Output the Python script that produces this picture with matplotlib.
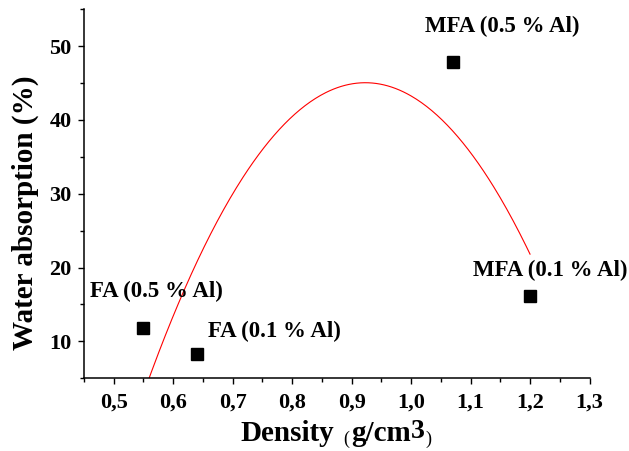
import numpy as np
import matplotlib
matplotlib.use("Agg")
import matplotlib.pyplot as plt
from matplotlib.ticker import MultipleLocator, FuncFormatter

plt.rcParams['font.family'] = ['Liberation Serif', 'DejaVu Serif']
plt.rcParams['font.weight'] = 'bold'

# Samples: density (g/cm3) and water absorption (%)
sample_names = ["FA (0.5 % Al)", "FA (0.1 % Al)", "MFA (0.5 % Al)", "MFA (0.1 % Al)"]
density = [0.55, 0.64, 1.07, 1.20]
absorption = [11.8, 8.3, 47.8, 16.1]

# Where each sample name is written (centre of the text, data units)
name_x = [0.572, 0.770, 1.153, 1.234]
name_y = [16.8, 11.35, 52.7, 19.6]

W, H = 629, 451
fig = plt.figure(figsize=(W / 100, H / 100), dpi=100)
ax = fig.add_axes([84 / W, 72.7 / H, 505.5 / W, 369.2 / H])

ax.plot(density, absorption, linestyle='none', marker='s', markersize=8.3,
        color='black', zorder=3)

# Second-order polynomial fit across the measured density range
coef = np.polyfit(density, absorption, 2)
xf = np.linspace(min(density), max(density), 300)
ax.plot(xf, np.polyval(coef, xf), color='red', linewidth=0.8, zorder=2)

for name, tx, ty in zip(sample_names, name_x, name_y):
    ax.text(tx, ty, name, ha='center', va='center', fontsize=16.5,
            fontweight='bold', clip_on=False)

ax.set_xlim(0.45, 1.3)
ax.set_ylim(5, 55)
ax.xaxis.set_major_locator(MultipleLocator(0.1))
ax.xaxis.set_minor_locator(MultipleLocator(0.05))
ax.yaxis.set_major_locator(MultipleLocator(10))
ax.yaxis.set_minor_locator(MultipleLocator(5))
ax.xaxis.set_major_formatter(FuncFormatter(lambda v, p: f"{v:.1f}".replace('.', ',')))
ax.yaxis.set_major_formatter(FuncFormatter(lambda v, p: f"{v:.0f}"))

for side in ('top', 'right'):
    ax.spines[side].set_visible(False)
for side in ('left', 'bottom'):
    ax.spines[side].set_linewidth(1.1)

ax.tick_params(which='major', direction='out', length=4.5, width=1.0,
               labelsize=16)
ax.tick_params(axis='y', which='major', pad=4.5)
ax.tick_params(axis='x', which='major', pad=5.7)
ax.tick_params(which='minor', direction='out', length=3, width=1.0)
for lab in ax.get_xticklabels() + ax.get_yticklabels():
    lab.set_fontweight('bold')

# Axis titles
fig.text(25 / W, 1 - 212.5 / H, "Water absorption (%)", rotation=90,
         ha='center', va='center', fontsize=21, fontweight='bold')

# x title built from pieces: large words, small parentheses, raised 3
pieces = [
    ("Density", 21, 'bold', 441, 9),
    ("(", 13, 'normal', 444, 2),
    ("g/cm", 21, 'bold', 441, 0),
    ("3", 20, 'bold', 438, 0),
    (")", 13, 'normal', 444, 0),
]
fig.canvas.draw()
renderer = fig.canvas.get_renderer()
texts = []
for s, size, weight, ybase, gap in pieces:
    t = fig.text(0, 1 - ybase / H, s, ha='left', va='baseline',
                 fontsize=size, fontweight=weight)
    texts.append((t, gap))
widths = [t.get_window_extent(renderer).width for t, _ in texts]
total = sum(widths) + sum(g for _, g in texts)
x = 336.0 - total / 2
for (t, gap), w in zip(texts, widths):
    t.set_x(x / W)
    x += w + gap

fig.savefig("out.png", dpi=100)
